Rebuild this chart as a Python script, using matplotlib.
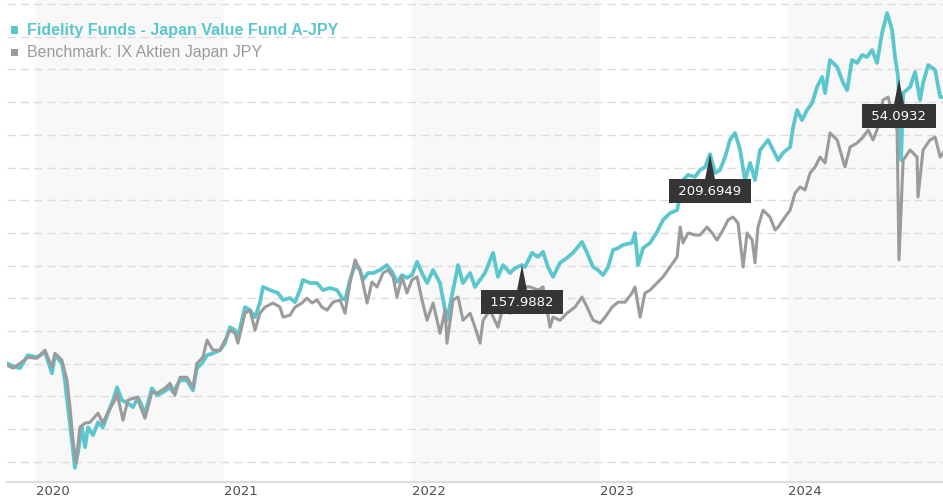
import numpy as np
import matplotlib
matplotlib.use('Agg')
import matplotlib.pyplot as plt
from matplotlib.patches import Rectangle
from matplotlib.ticker import NullLocator

# time in decimal years
fund_t = [2019.846, 2019.878, 2019.915, 2019.957, 2020.005, 2020.048, 2020.085, 2020.101, 2020.138, 2020.154,
          2020.170, 2020.191, 2020.207, 2020.223, 2020.245, 2020.261, 2020.277, 2020.303, 2020.330, 2020.356,
          2020.383, 2020.410, 2020.431, 2020.457, 2020.489, 2020.516, 2020.543, 2020.580, 2020.617, 2020.644,
          2020.676, 2020.713, 2020.729, 2020.766, 2020.803, 2020.835, 2020.856, 2020.883, 2020.910, 2020.941,
          2020.979, 2021.005, 2021.032, 2021.059, 2021.074, 2021.112, 2021.138, 2021.165, 2021.191, 2021.207,
          2021.245, 2021.287, 2021.314, 2021.351, 2021.378, 2021.404, 2021.420, 2021.457, 2021.495, 2021.527,
          2021.564, 2021.601, 2021.628, 2021.644, 2021.670, 2021.697, 2021.723, 2021.739, 2021.766, 2021.793,
          2021.830, 2021.867, 2021.894, 2021.920, 2021.947, 2021.973, 2022.000, 2022.027, 2022.053, 2022.080,
          2022.112, 2022.149, 2022.186, 2022.218, 2022.245, 2022.271, 2022.309, 2022.335, 2022.362, 2022.388,
          2022.431, 2022.457, 2022.484, 2022.521, 2022.548, 2022.585, 2022.601, 2022.638, 2022.670, 2022.697,
          2022.723, 2022.750, 2022.787, 2022.824, 2022.856, 2022.904, 2022.931, 2022.963, 2022.989, 2023.016,
          2023.043, 2023.069, 2023.096, 2023.122, 2023.170, 2023.186, 2023.202, 2023.229, 2023.266, 2023.303,
          2023.335, 2023.372, 2023.410, 2023.441, 2023.468, 2023.505, 2023.532, 2023.559, 2023.585, 2023.612,
          2023.638, 2023.665, 2023.691, 2023.718, 2023.745, 2023.771, 2023.798, 2023.824, 2023.851, 2023.894,
          2023.920, 2023.947, 2023.973, 2024.011, 2024.027, 2024.048, 2024.074, 2024.101, 2024.128, 2024.154,
          2024.181, 2024.197, 2024.223, 2024.261, 2024.293, 2024.314, 2024.340, 2024.367, 2024.394, 2024.420,
          2024.447, 2024.473, 2024.500, 2024.527, 2024.553, 2024.569, 2024.585, 2024.601, 2024.612, 2024.649,
          2024.676, 2024.702, 2024.718, 2024.745, 2024.782, 2024.809, 2024.824]
fund_v = [122.9, 122.0, 121.4, 125.5, 124.8, 126.5, 119.8, 125.5, 122.9, 117.7,
          109.9, 101.0, 94.1, 97.7, 104.4, 99.2, 104.4, 102.3, 105.7, 104.4,
          108.2, 111.9, 115.6, 111.9, 111.0, 109.9, 112.7, 108.2, 115.3, 113.3,
          114.2, 115.6, 114.2, 117.7, 117.7, 114.7, 121.4, 122.9, 125.5, 126.1,
          127.1, 129.4, 134.8, 133.8, 131.4, 141.9, 140.8, 138.3, 143.4, 149.4,
          148.2, 147.1, 144.5, 145.2, 143.7, 148.2, 152.1, 150.9, 150.9, 148.2,
          149.0, 148.2, 145.2, 144.5, 152.1, 158.0, 156.0, 152.1, 154.8, 154.8,
          156.0, 158.0, 155.2, 151.3, 154.0, 152.9, 154.0, 159.3, 154.8, 150.9,
          156.0, 150.9, 137.2, 148.2, 158.0, 150.9, 154.8, 149.4, 152.1, 154.8,
          163.0, 153.3, 158.0, 154.8, 156.8, 158.0, 157.2, 163.0, 161.3, 163.4,
          157.2, 153.3, 158.9, 160.9, 163.0, 167.6, 163.0, 157.2, 156.0, 154.0,
          157.2, 164.2, 165.0, 166.3, 167.2, 171.5, 158.0, 165.0, 167.2, 171.9,
          177.3, 180.4, 181.8, 196.3, 198.9, 197.9, 201.4, 203.0, 209.7, 199.9,
          201.4, 208.2, 217.5, 221.4, 212.0, 196.3, 205.1, 196.3, 212.0, 217.5,
          212.0, 206.6, 210.4, 213.6, 224.8, 234.8, 228.8, 234.8, 239.0, 249.0,
          255.5, 245.2, 266.8, 262.1, 251.6, 247.1, 266.8, 264.8, 270.2, 268.9,
          273.7, 264.8, 285.9, 300.8, 288.1, 268.9, 255.5, 206.6, 245.2, 249.0,
          258.7, 240.9, 251.6, 263.4, 260.1, 242.7, 242.7]

bench_t = [2019.846, 2019.878, 2019.915, 2019.957, 2020.005, 2020.048, 2020.085, 2020.101, 2020.138, 2020.165,
           2020.181, 2020.197, 2020.213, 2020.234, 2020.261, 2020.287, 2020.330, 2020.356, 2020.383, 2020.420,
           2020.431, 2020.463, 2020.489, 2020.537, 2020.580, 2020.617, 2020.644, 2020.686, 2020.713, 2020.739,
           2020.766, 2020.803, 2020.835, 2020.856, 2020.888, 2020.910, 2020.941, 2020.979, 2021.005, 2021.032,
           2021.059, 2021.074, 2021.112, 2021.138, 2021.165, 2021.191, 2021.218, 2021.261, 2021.298, 2021.314,
           2021.351, 2021.378, 2021.415, 2021.441, 2021.468, 2021.495, 2021.521, 2021.548, 2021.580, 2021.617,
           2021.644, 2021.670, 2021.697, 2021.723, 2021.739, 2021.761, 2021.787, 2021.814, 2021.846, 2021.872,
           2021.899, 2021.920, 2021.947, 2021.973, 2022.000, 2022.027, 2022.053, 2022.080, 2022.112, 2022.149,
           2022.176, 2022.186, 2022.218, 2022.245, 2022.271, 2022.309, 2022.335, 2022.362, 2022.378, 2022.415,
           2022.457, 2022.484, 2022.521, 2022.559, 2022.585, 2022.628, 2022.670, 2022.697, 2022.734, 2022.750,
           2022.787, 2022.824, 2022.867, 2022.904, 2022.931, 2022.963, 2023.000, 2023.027, 2023.064, 2023.096,
           2023.133, 2023.170, 2023.186, 2023.213, 2023.239, 2023.266, 2023.303, 2023.335, 2023.372, 2023.410,
           2023.426, 2023.441, 2023.468, 2023.505, 2023.532, 2023.569, 2023.596, 2023.622, 2023.654, 2023.681,
           2023.707, 2023.734, 2023.761, 2023.782, 2023.809, 2023.824, 2023.840, 2023.867, 2023.904, 2023.931,
           2023.947, 2023.984, 2024.011, 2024.037, 2024.064, 2024.090, 2024.117, 2024.144, 2024.170, 2024.197,
           2024.223, 2024.261, 2024.287, 2024.303, 2024.330, 2024.367, 2024.399, 2024.426, 2024.452, 2024.479,
           2024.505, 2024.532, 2024.559, 2024.580, 2024.590, 2024.612, 2024.649, 2024.686, 2024.691, 2024.718,
           2024.755, 2024.782, 2024.809, 2024.824]
bench_v = [122.3, 121.4, 122.9, 124.8, 124.5, 127.1, 121.7, 126.1, 123.9, 117.7,
           109.9, 101.0, 95.3, 104.4, 105.5, 105.7, 108.2, 105.5, 108.5, 111.9,
           113.9, 106.3, 111.9, 112.7, 106.8, 114.2, 113.9, 115.3, 116.8, 113.3,
           118.6, 118.6, 115.6, 122.9, 124.8, 130.4, 127.1, 127.1, 130.4, 133.8,
           132.7, 129.4, 139.7, 140.8, 133.8, 139.7, 141.9, 143.4, 141.9, 138.3,
           139.0, 141.9, 143.4, 145.2, 143.4, 144.5, 141.9, 140.8, 143.7, 144.5,
           139.7, 150.9, 160.1, 156.0, 150.9, 143.4, 151.3, 149.4, 154.8, 156.0,
           153.3, 145.6, 153.3, 147.1, 152.1, 153.3, 144.5, 137.2, 143.4, 132.7,
           140.8, 129.4, 144.5, 145.6, 137.2, 139.7, 134.8, 129.4, 137.2, 140.8,
           134.8, 141.9, 139.7, 143.4, 149.4, 149.4, 148.2, 149.4, 134.8, 138.3,
           137.2, 139.7, 141.9, 145.6, 141.9, 137.2, 136.2, 138.3, 141.9, 143.7,
           143.7, 147.1, 149.4, 138.3, 147.1, 148.2, 150.9, 153.3, 157.2, 161.3,
           174.1, 167.2, 171.5, 170.6, 170.6, 174.1, 171.5, 168.4, 172.8, 177.3,
           178.6, 175.9, 157.2, 171.5, 168.4, 158.9, 174.1, 181.8, 178.6, 172.8,
           174.1, 178.6, 181.8, 189.9, 192.9, 191.4, 199.9, 203.0, 208.2, 205.1,
           221.4, 217.5, 208.2, 203.0, 213.6, 215.8, 219.1, 223.1, 217.5, 224.8,
           240.9, 242.7, 230.6, 223.1, 160.1, 206.6, 212.0, 208.2, 188.0, 212.0,
           217.5, 219.1, 208.2, 210.4]

ann_t = [2022.585, 2023.585, 2024.590]
ann_v = [157.9882, 209.6949, 254.0932]
ann_labels = ['157.9882', '209.6949', '54.0932']

years = [2020, 2021, 2022, 2023, 2024]
shaded_years = [2020, 2022, 2024]

fund_name = 'Fidelity Funds - Japan Value Fund A-JPY'
bench_name = 'Benchmark: IX Aktien Japan JPY'

teal = '#5ac6cd'
grey = '#9b9b9b'

fig = plt.figure(figsize=(9.43, 5), dpi=100)
ax = fig.add_axes([7 / 943, 18 / 500, 936 / 943, 482 / 500])
ax.set_yscale('log')
ax.set_xlim(2019.846, 2024.824)
ax.set_ylim(90.76, 311.0)

for yr in shaded_years:
    ax.axvspan(yr, yr + 1, color='#f8f8f8', lw=0, zorder=0)

for g in np.geomspace(95.58, 307.8, 15):
    ax.axhline(g, color='#dcdcdc', lw=1.0, dashes=(6, 3.6), zorder=1)

ax.plot(fund_t, fund_v, color=teal, lw=2.7, zorder=3, solid_joinstyle='round')
ax.plot(bench_t, bench_v, color=grey, lw=2.2, zorder=4, solid_joinstyle='round')

for t, v, lab in zip(ann_t, ann_v, ann_labels):
    ax.annotate(' ' + lab + ' ', xy=(t, v), xytext=(0, -26.6), textcoords='offset points',
                ha='center', va='center', color='white', fontsize=9.5, family='DejaVu Sans',
                bbox=dict(boxstyle='square,pad=0.42', fc='#353535', ec='none'),
                arrowprops=dict(arrowstyle='wedge,tail_width=0.75,shrink_factor=0.5',
                                fc='#353535', ec='none', shrinkA=0, shrinkB=0),
                zorder=6)

for side in ['top', 'right', 'left']:
    ax.spines[side].set_visible(False)
ax.spines['bottom'].set_color('#dddddd')
ax.spines['bottom'].set_linewidth(1.6)

ax.yaxis.set_major_locator(NullLocator())
ax.yaxis.set_minor_locator(NullLocator())
ax.set_xticks(years)
ax.set_xticklabels([str(y) for y in years])
ax.tick_params(axis='x', length=0, pad=2, labelsize=9.5, labelcolor='#4d4d4d')
for lbl in ax.get_xticklabels():
    lbl.set_ha('left')

# legend
fig.add_artist(Rectangle((11 / 943, 1 - 33.5 / 500), 7 / 943, 7 / 500,
                         transform=fig.transFigure, color=teal, lw=0))
fig.add_artist(Rectangle((11 / 943, 1 - 56 / 500), 7 / 943, 7 / 500,
                         transform=fig.transFigure, color=grey, lw=0))
fig.text(27 / 943, 1 - 30 / 500, fund_name, color=teal, fontsize=11.5, fontweight='bold',
         family='Liberation Sans', va='center', ha='left')
fig.text(27 / 943, 1 - 52 / 500, bench_name, color=grey, fontsize=11.5,
         family='Liberation Sans', va='center', ha='left')

fig.savefig('out.png', dpi=100, facecolor='white')
